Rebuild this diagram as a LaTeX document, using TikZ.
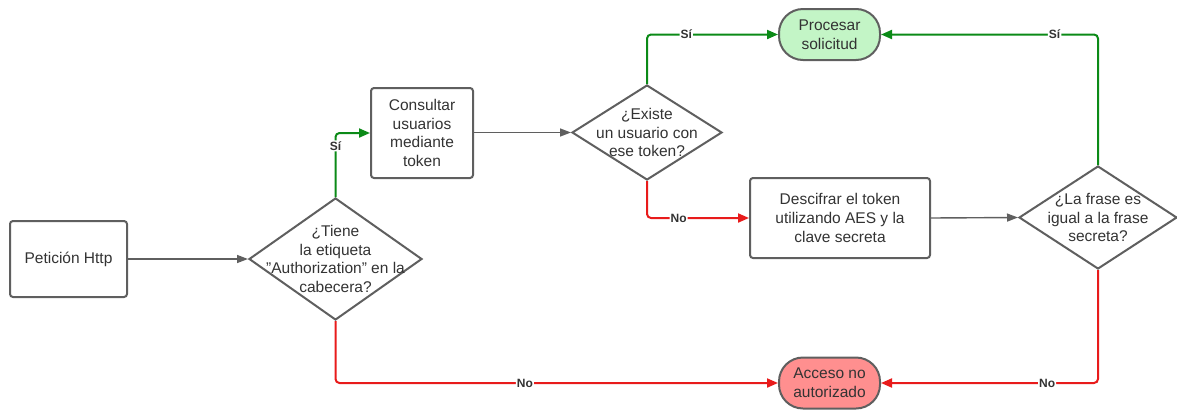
\documentclass[tikz,border=0pt]{standalone}
\usepackage{fontspec}
\setmainfont[Ligatures=NoCommon]{Liberation Sans}
\usetikzlibrary{shapes.geometric,arrows.meta}
\definecolor{edgegray}{HTML}{5F5F5F}
\definecolor{txt}{HTML}{333333}
\definecolor{okgreen}{HTML}{0B8A17}
\definecolor{nored}{HTML}{E81B1B}
\definecolor{okfill}{HTML}{C3F5C6}
\definecolor{nofill}{HTML}{FF8F8F}
\newcommand{\dq}{\symbol{34}}
\tikzset{
  every node/.style={text=txt},
  body/.style={font=\fontsize{15.5}{18.6}\selectfont, align=center},
  procbox/.style={body, draw=edgegray, line width=2pt, rounded corners=3pt, fill=white, inner sep=0pt},
  pill/.style={body, draw=edgegray, line width=2pt, rounded corners=24pt, inner sep=0pt,
    minimum width=101pt, minimum height=51pt},
  decision/.style={draw=edgegray, line width=2pt, shape=diamond, inner sep=0pt, fill=white},
  flow/.style={draw=edgegray, line width=1.4pt, -{Triangle[length=11pt,width=8pt]}},
  yes/.style={draw=okgreen, line width=2pt, rounded corners=4pt, -{Triangle[length=11pt,width=9pt]}},
  no/.style={draw=nored, line width=2pt, rounded corners=4pt, -{Triangle[length=11pt,width=9pt]}},
  tag/.style={font=\fontsize{12}{14}\selectfont\bfseries, fill=white, inner sep=1pt}
}
\begin{document}
\begin{tikzpicture}[x=1pt, y=-1pt]
\useasboundingbox (0,0) rectangle (1177,410);

% process boxes
\node[procbox, minimum width=117pt, minimum height=76pt] (req) at (68.5,259) {Petición Http};
\node[procbox, minimum width=102pt, minimum height=90pt] (query) at (422,133)
  {Consultar\\usuarios\\mediante\\token};
\node[procbox, minimum width=180pt, minimum height=80pt] (decrypt) at (840,218)
  {Descifrar el token\\utilizando AES y la\\clave secreta};

% terminal states
\node[pill, fill=okfill] (accept) at (829.5,34.5) {Procesar\\solicitud};
\node[pill, fill=nofill] (deny) at (829.5,383) {Acceso no\\autorizado};

% decisions
\node[decision, minimum width=173pt, minimum height=122pt,
  label={[body]center:¿Tiene\\la etiqueta\\\dq Authorization\dq{} en la\\cabecera?}] (hasauth) at (335.5,259) {};
\node[decision, minimum width=150pt, minimum height=95pt,
  label={[body]center:¿Existe\\un usuario con\\ese token?}] (exists) at (647,132.5) {};
\node[decision, minimum width=158pt, minimum height=103pt,
  label={[body]center:¿La frase es\\igual a la frase\\secreta?}] (match) at (1098,217.5) {};

% connectors
\draw[flow] (req.east) -- (hasauth.west);
\draw[flow] (query.east |- exists.west) -- (exists.west);
\draw[flow] (decrypt.east) -- (match.west);

\draw[yes] (hasauth.north) |- node[tag, pos=0.4] (t1) {Sí} (query.west);
\draw[no]  (hasauth.south) |- node[tag, pos=0.714] (t2) {No} (deny.west);
\draw[yes] (exists.north) |- node[tag, pos=0.65] (t3) {Sí} (accept.west);
\draw[no]  (exists.south) |- node[tag, pos=0.655] (t4) {No} (decrypt.west);
\draw[yes] (match.north) |- node[tag, pos=0.6] (t5) {Sí} (accept.east);
\draw[no]  (match.south) |- node[tag, pos=0.617] (t6) {No} (deny.east);
\end{tikzpicture}
\end{document}
